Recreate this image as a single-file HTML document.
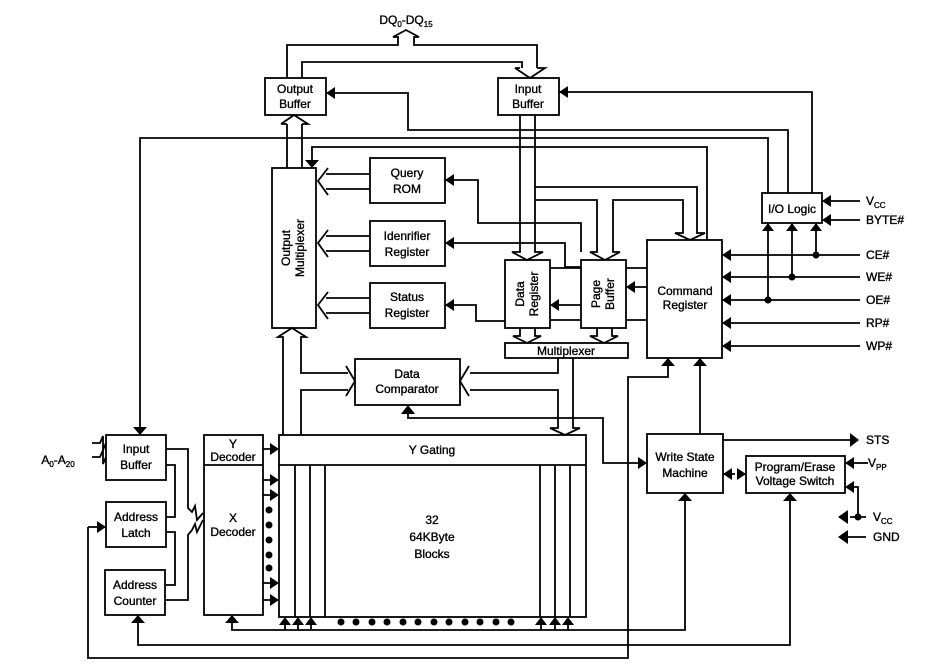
<!DOCTYPE html>
<html><head><meta charset="utf-8"><style>
html,body{margin:0;padding:0;background:#fff}
svg{display:block}
text{font-family:"Liberation Sans",Arial,sans-serif;font-size:12px;fill:#000;stroke:#000;stroke-width:0.35;text-anchor:middle}
</style></head><body>
<svg width="946" height="671" viewBox="0 0 946 671" xmlns="http://www.w3.org/2000/svg">
<g fill="none" stroke="#000" stroke-width="1.8">
<rect x="265" y="78" width="61" height="37"/>
<rect x="498" y="78" width="61" height="37"/>
<rect x="272" y="168" width="44" height="160"/>
<rect x="370" y="158" width="75" height="45"/>
<rect x="370" y="221" width="75" height="45"/>
<rect x="370" y="283" width="75" height="45"/>
<rect x="505" y="260" width="45" height="68"/>
<rect x="581" y="260" width="45" height="68"/>
<rect x="505" y="343" width="123" height="15"/>
<rect x="647" y="240" width="75" height="118"/>
<rect x="762" y="193" width="60" height="30"/>
<rect x="355" y="359" width="105" height="46"/>
<rect x="204" y="435" width="59" height="180"/>
<line x1="204" y1="465" x2="263" y2="465"/>
<rect x="279" y="435" width="307" height="182"/>
<line x1="279" y1="465" x2="586" y2="465"/>
<rect x="106" y="435" width="60" height="45"/>
<rect x="106" y="502" width="60" height="45"/>
<rect x="105" y="570" width="60" height="45"/>
<rect x="647" y="434" width="76" height="59"/>
<rect x="746" y="456" width="99" height="37"/>
<path d="M295 465V617M310 465V617M325 465V617M540 465V617M555 465V617M570 465V617"/>

<path d="M287 78V45H398V37H393L406 30L419 37H414V45H537V68"/>
<path d="M302 78V62H522V68"/>
<path d="M515 68H520M537 68H545L530 78L515 68"/>
<path d="M287 168V124M302 168V124M281 124L294 115L308 124H302M281 124H287"/>
<path d="M335 93H408V130H788V193"/>
<path d="M559 92H812V193"/>
<path d="M140 428V138H768V193"/>
<path d="M312 160V147H707V240"/>
<path d="M520 115V252H512L527 260L543 252H535V115"/>
<path d="M535 187H697V233H705L690 240L675 233H683V200H613V252H620L605 260L590 252H597V200H536"/>
<path d="M445 180H478V223H581V252"/>
<path d="M445 243H565V267H581"/>
<path d="M445 305H476V321H505"/>
<path d="M550 268H581M550 320H581"/>
<path d="M559 305H581"/>
<path d="M626 268H647M635 287H647M626 320H647"/>
<path d="M370 174H326M370 189H326M328 168L318 181L328 195"/>
<path d="M370 236H326M370 251H326M328 230L318 243L328 257"/>
<path d="M370 298H326M370 313H326M328 292L318 305L328 319"/>
<path d="M520 328V336H513L527 343L541 336H535V328"/>
<path d="M597 328V336H590L604 343L618 336H612V328"/>
<path d="M283 435V337H278L292 328L306 337H301V373H348"/>
<path d="M301 435V390H348"/>
<path d="M346 366L355 381L346 396"/>
<path d="M558 358V373H470M470 390H558V428H550L565 435L580 428H573V358"/>
<path d="M469 366L460 381L469 396"/>
<path d="M408 414V418H603V463H640"/>
<path d="M700 434V366"/>
<path d="M628 655V377H668V366"/>
<path d="M860 201H830M860 220H830"/>
<path d="M860 255H730M860 277H730M860 300H730M860 323H730M860 346H730"/>
<path d="M816 231V255M792 231V277M768 231V300"/>
<path d="M723 440H850"/>
<path d="M723 474H735M740 474H746"/>
<path d="M868 463H853"/>
<path d="M853 487H858V517H850M866 517H855"/>
<path d="M866 537H848"/>
<path d="M92 443H100L103 436V450L106 443"/>
<path d="M92 457H100L103 450V464L106 457"/>
<path d="M166 449H188V508L192 512L195 506L197 520L203 513"/>
<path d="M166 465H175V517H166"/>
<path d="M166 532H175V585H166"/>
<path d="M166 600H188V535L192 530L195 524L197 532L203 520"/>
<path d="M263 449H271M263 480H271M263 495H271M263 583H271M263 600H271"/>
<path d="M232 622V630H685V501"/>
<path d="M138 622V645H790V501"/>
<path d="M88 527H98M88 527V658H628V655"/>
<path d="M285 624V630M298 624V630M311 624V630M541 624V630M555 624V630M568 624V630"/>
</g>
<g fill="#000">
<polygon points="326,93 335,87 335,99"/>
<polygon points="559,92 568,86 568,98"/>
<polygon points="312,168 305,160 319,160"/>
<polygon points="140,435 133,427 147,427"/>
<polygon points="445,180 454,174 454,186"/>
<polygon points="445,243 454,237 454,249"/>
<polygon points="445,305 454,299 454,311"/>
<polygon points="550,305 559,299 559,311"/>
<polygon points="626,287 635,281 635,293"/>
<polygon points="408,405 401,414 415,414"/>
<polygon points="700,358 693,366 707,366"/>
<polygon points="668,358 661,366 675,366"/>
<polygon points="822,201 831,195 831,207"/>
<polygon points="822,220 831,214 831,226"/>
<polygon points="768,223 762,231 774,231"/>
<polygon points="792,223 786,231 798,231"/>
<polygon points="816,223 810,231 822,231"/>
<circle cx="816" cy="255" r="3.5"/><circle cx="792" cy="277" r="3.5"/><circle cx="768" cy="300" r="3.5"/>
<polygon points="722,255 731,249 731,261"/>
<polygon points="722,277 731,271 731,283"/>
<polygon points="722,300 731,294 731,306"/>
<polygon points="722,323 731,317 731,329"/>
<polygon points="722,346 731,340 731,352"/>
<polygon points="859,440 850,433 850,447"/>
<polygon points="647,463 638,457 638,469"/>
<polygon points="723,474 732,468 732,480"/>
<polygon points="746,474 737,468 737,480"/>
<polygon points="845,463 854,457 854,469"/>
<polygon points="845,487 854,481 854,493"/>
<circle cx="858" cy="517" r="3.5"/>
<polygon points="838,517 848,510 848,524"/>
<polygon points="838,537 848,530 848,544"/>
<polygon points="685,493 678,501 692,501"/>
<polygon points="790,493 783,501 797,501"/>
<polygon points="106,527 97,521 97,533"/>
<polygon points="138,615 131,623 145,623"/>
<polygon points="232,615 225,623 239,623"/>
<polygon points="279,449 270,443 270,455"/>
<polygon points="279,480 270,474 270,486"/>
<polygon points="279,495 270,489 270,501"/>
<polygon points="279,583 270,577 270,589"/>
<polygon points="279,600 270,594 270,606"/>
<circle cx="269" cy="510" r="3.5"/><circle cx="269" cy="525" r="3.5"/><circle cx="269" cy="540" r="3.5"/><circle cx="269" cy="555" r="3.5"/><circle cx="269" cy="568" r="3.5"/>
<polygon points="285,617 279,625 291,625"/>
<polygon points="298,617 292,625 304,625"/>
<polygon points="311,617 305,625 317,625"/>
<polygon points="541,617 535,625 547,625"/>
<polygon points="555,617 549,625 561,625"/>
<polygon points="568,617 562,625 574,625"/>
<circle cx="341" cy="622" r="3.5"/><circle cx="356" cy="622" r="3.5"/><circle cx="372" cy="622" r="3.5"/><circle cx="387" cy="622" r="3.5"/><circle cx="403" cy="622" r="3.5"/><circle cx="418" cy="622" r="3.5"/><circle cx="434" cy="622" r="3.5"/><circle cx="449" cy="622" r="3.5"/><circle cx="465" cy="622" r="3.5"/><circle cx="480" cy="622" r="3.5"/><circle cx="496" cy="622" r="3.5"/><circle cx="511" cy="622" r="3.5"/>
</g>
<text x="406" y="24">DQ<tspan font-size="8" dy="3">0</tspan><tspan dy="-3">-DQ</tspan><tspan font-size="8" dy="3">15</tspan></text>
<text x="295" y="93">Output</text><text x="295" y="108">Buffer</text>
<text x="528" y="93">Input</text><text x="528" y="108">Buffer</text>
<text transform="translate(290,248) rotate(-90)">Output</text>
<text transform="translate(304,248) rotate(-90)">Multiplexer</text>
<text x="407" y="177">Query</text><text x="407" y="193">ROM</text>
<text x="407" y="240">Idenrifier</text><text x="407" y="256">Register</text>
<text x="407" y="301">Status</text><text x="407" y="317">Register</text>
<text transform="translate(524,294) rotate(-90)">Data</text>
<text transform="translate(538,294) rotate(-90)">Register</text>
<text transform="translate(600,294) rotate(-90)">Page</text>
<text transform="translate(614,294) rotate(-90)">Buffer</text>
<text x="566" y="355">Multiplexer</text>
<text x="685" y="295">Command</text><text x="685" y="309">Register</text>
<text x="792" y="213">I/O Logic</text>
<text x="407" y="378">Data</text><text x="407" y="393">Comparator</text>
<text x="233" y="448">Y</text><text x="233" y="461">Decoder</text>
<text x="233" y="522">X</text><text x="233" y="536">Decoder</text>
<text x="432" y="454">Y Gating</text>
<text x="432" y="524">32</text><text x="432" y="541">64KByte</text><text x="432" y="558">Blocks</text>
<text x="136" y="453">Input</text><text x="136" y="469">Buffer</text>
<text x="136" y="521">Address</text><text x="136" y="537">Latch</text>
<text x="135" y="589">Address</text><text x="135" y="605">Counter</text>
<text x="685" y="461">Write State</text><text x="685" y="477">Machine</text>
<text x="795" y="471">Program/Erase</text><text x="795" y="485">Voltage Switch</text>
<text x="58" y="464">A<tspan font-size="8" dy="3">0</tspan><tspan dy="-3">-A</tspan><tspan font-size="8" dy="3">20</tspan></text>
<text x="866" y="205" style="text-anchor:start">V<tspan font-size="8" dy="3">CC</tspan></text>
<text x="866" y="224" style="text-anchor:start">BYTE#</text>
<text x="866" y="259" style="text-anchor:start">CE#</text>
<text x="866" y="281" style="text-anchor:start">WE#</text>
<text x="866" y="304" style="text-anchor:start">OE#</text>
<text x="866" y="327" style="text-anchor:start">RP#</text>
<text x="866" y="350" style="text-anchor:start">WP#</text>
<text x="866" y="444" style="text-anchor:start">STS</text>
<text x="868" y="467" style="text-anchor:start">V<tspan font-size="8" dy="3">PP</tspan></text>
<text x="873" y="521" style="text-anchor:start">V<tspan font-size="8" dy="3">CC</tspan></text>
<text x="873" y="541" style="text-anchor:start">GND</text>
</svg>
</body></html>
